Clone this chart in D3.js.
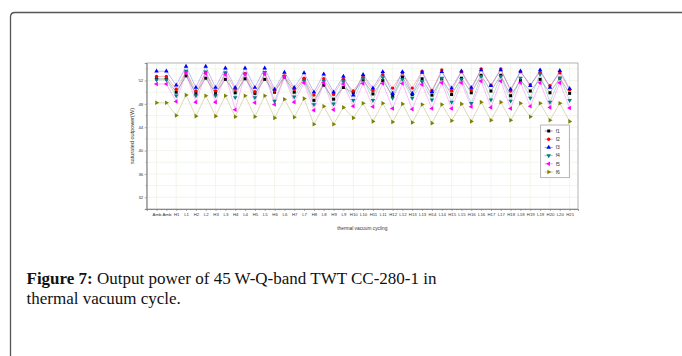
<!DOCTYPE html>
<html>
<head>
<meta charset="utf-8">
<script src="https://cdn.jsdelivr.net/npm/d3@7"></script>
<style>
  html, body { margin: 0; padding: 0; background: #fff; }
  svg { display: block; }
</style>
</head>
<body>
<div id="chart"></div>
<script>
// x categories: two ambient points, then alternating hot / cold plateaus
const categories = ["Amb", "Amb"];
for (let i = 1; i <= 20; i++) categories.push("H" + i, "L" + i);
categories.push("H21");

const seriesNames = ["f1", "f2", "f3", "f4", "f5", "f6"];

// saturated output power (W)
const f1 = [52.3, 52.3, 50.0, 52.8, 49.8, 52.4, 49.8, 52.2, 49.9, 52.3, 49.8, 52.2, 50.0, 52.6, 50.0, 52.2,
  48.6, 51.2, 48.8, 50.8, 49.9, 52.1, 49.7, 52.0, 49.4, 52.6, 49.6, 52.3, 49.5, 52.3, 49.6, 52.4,
  49.9, 52.9, 50.2, 52.9, 49.4, 52.0, 50.2, 52.2, 49.9, 52.4, 49.8];
const f2 = [52.7, 52.7, 50.5, 53.5, 50.2, 53.4, 50.2, 53.3, 50.5, 53.2, 50.1, 53.1, 50.2, 52.8, 50.5, 52.4,
  49.5, 52.3, 49.6, 52.2, 50.2, 52.6, 50.3, 53.0, 50.7, 53.3, 50.7, 53.6, 50.3, 53.8, 50.2, 53.5,
  50.4, 54.0, 51.2, 54.0, 50.2, 53.5, 51.3, 53.4, 51.1, 53.3, 50.4];
const f3 = [53.6, 53.6, 51.2, 54.4, 50.8, 54.4, 50.8, 54.1, 50.8, 54.1, 50.8, 54.1, 50.5, 53.4, 50.8, 53.3,
  50.0, 53.1, 50.0, 52.7, 49.5, 53.0, 50.7, 53.5, 49.8, 53.5, 49.8, 53.4, 50.1, 53.5, 50.7, 53.6,
  50.8, 53.8, 51.1, 53.8, 50.5, 53.6, 51.1, 53.8, 50.8, 53.7, 50.6];
const f4 = [52.1, 52.1, 49.4, 53.6, 49.4, 53.5, 49.4, 53.3, 49.1, 53.1, 49.1, 53.4, 48.5, 52.7, 49.2, 52.0,
  47.9, 51.9, 48.0, 51.8, 48.6, 52.4, 48.6, 52.5, 49.0, 52.2, 49.0, 51.8, 48.7, 52.4, 48.3, 52.2,
  48.1, 52.7, 48.7, 52.7, 48.5, 52.4, 49.0, 53.1, 48.3, 52.4, 48.6];
const f5 = [51.4, 51.4, 48.4, 53.3, 48.3, 53.2, 48.3, 53.0, 47.0, 53.1, 48.2, 53.2, 47.9, 52.6, 48.3, 51.6,
  46.9, 51.6, 47.0, 51.4, 47.6, 51.5, 47.5, 51.5, 47.2, 51.5, 47.1, 51.3, 47.2, 51.6, 47.2, 51.6,
  47.5, 51.9, 47.4, 51.9, 47.2, 51.6, 47.6, 51.6, 47.4, 51.6, 47.3];
const f6 = [48.2, 48.2, 46.0, 49.5, 45.9, 49.4, 45.9, 49.4, 45.8, 49.4, 45.8, 49.4, 45.6, 48.8, 45.7, 48.9,
  44.5, 47.6, 44.5, 47.4, 45.6, 48.1, 45.0, 48.1, 44.9, 48.0, 44.8, 47.9, 44.7, 47.9, 45.1, 48.0,
  45.0, 48.3, 45.2, 48.3, 45.2, 48.1, 45.8, 48.1, 45.2, 48.1, 45.0];

const yTicks = [32, 36, 40, 44, 48, 52];

const series = [
  { name: "f1", values: f1, color: "#000000", symbol: d3.symbolSquare, rot: 0 },
  { name: "f2", values: f2, color: "#ff0000", symbol: d3.symbolCircle, rot: 0 },
  { name: "f3", values: f3, color: "#0000ff", symbol: d3.symbolTriangle, rot: 0 },
  { name: "f4", values: f4, color: "#008080", symbol: d3.symbolTriangle, rot: 180 },
  { name: "f5", values: f5, color: "#ff00ff", symbol: d3.symbolTriangle, rot: -90 },
  { name: "f6", values: f6, color: "#808000", symbol: d3.symbolTriangle, rot: 90 },
];

const W = 682, H = 356;
const svg = d3.select("#chart").append("svg").attr("width", W).attr("height", H);

// figure frame (open to the right and bottom)
svg.append("path")
  .attr("d", "M10.5,356 L10.5,17 Q10.5,12.5 15,12.5 L682,12.5")
  .attr("fill", "none").attr("stroke", "#555").attr("stroke-width", 1.3);

const plot = { left: 146.7, right: 578, top: 63, bottom: 209 };

const x = d3.scaleLinear().domain([-1, 42.85]).range([plot.left, plot.right]);
const y = d3.scaleLinear().domain([30, 55]).range([plot.bottom, plot.top]);

const g = svg.append("g");

// faint grid
g.append("g").selectAll("line")
  .data(d3.range(0, categories.length, 2))
  .join("line")
  .attr("x1", (d) => x(d)).attr("x2", (d) => x(d))
  .attr("y1", plot.top).attr("y2", plot.bottom)
  .attr("stroke", "#eef4e8").attr("stroke-width", 0.8);
g.append("g").selectAll("line")
  .data(d3.range(32, 55, 2))
  .join("line")
  .attr("x1", plot.left).attr("x2", plot.right)
  .attr("y1", (d) => y(d)).attr("y2", (d) => y(d))
  .attr("stroke", "#eef4e8").attr("stroke-width", 0.8);

// plot box
g.append("rect")
  .attr("x", plot.left).attr("y", plot.top)
  .attr("width", plot.right - plot.left).attr("height", plot.bottom - plot.top)
  .attr("fill", "none").attr("stroke", "#a0a0a0").attr("stroke-width", 0.8);

// x axis
const xAxis = d3.axisBottom(x)
  .tickValues(d3.range(categories.length))
  .tickFormat((i) => categories[i])
  .tickSize(2).tickPadding(1.5);
const xa = g.append("g").attr("transform", `translate(0,${plot.bottom})`).call(xAxis);
xa.select(".domain").attr("stroke", "#777").attr("stroke-width", 0.8);
xa.selectAll(".tick line").attr("stroke", "#777").attr("stroke-width", 0.6);
xa.selectAll("text").attr("font-family", "Liberation Sans, Arial, sans-serif")
  .attr("font-size", 4.3).attr("fill", "#333");
// minor x ticks
g.append("g").selectAll("line")
  .data(d3.range(-0.5, categories.length, 1))
  .join("line")
  .attr("x1", (d) => x(d)).attr("x2", (d) => x(d))
  .attr("y1", plot.bottom).attr("y2", plot.bottom + 1.2)
  .attr("stroke", "#777").attr("stroke-width", 0.5);

// y axis
const yAxis = d3.axisLeft(y).tickValues(yTicks).tickSize(2).tickPadding(1.5);
const ya = g.append("g").attr("transform", `translate(${plot.left},0)`).call(yAxis);
ya.select(".domain").attr("stroke", "#777").attr("stroke-width", 0.8);
ya.selectAll(".tick line").attr("stroke", "#777").attr("stroke-width", 0.6);
ya.selectAll("text").attr("font-family", "Liberation Sans, Arial, sans-serif")
  .attr("font-size", 4.3).attr("fill", "#333");
g.append("g").selectAll("line")
  .data(d3.range(30, 55.1, 2).filter((v) => !yTicks.includes(v)))
  .join("line")
  .attr("x1", plot.left - 1.2).attr("x2", plot.left)
  .attr("y1", (d) => y(d)).attr("y2", (d) => y(d))
  .attr("stroke", "#777").attr("stroke-width", 0.5);

// axis titles
g.append("text")
  .attr("transform", `translate(134,${(plot.top + plot.bottom) / 2}) rotate(-90)`)
  .attr("text-anchor", "middle")
  .attr("font-family", "Liberation Sans, Arial, sans-serif").attr("font-size", 5.5).attr("fill", "#333")
  .text("saturated outpower(W)");
g.append("text")
  .attr("x", (plot.left + plot.right) / 2).attr("y", 229.5)
  .attr("text-anchor", "middle")
  .attr("font-family", "Liberation Sans, Arial, sans-serif").attr("font-size", 4.8).attr("fill", "#333")
  .text("thermal vacuum cycling");

// lines and markers
const line = d3.line().x((d, i) => x(i)).y((d) => y(d));
const symbolSize = 9;

series.forEach((s) => {
  const sg = g.append("g");
  sg.append("path")
    .datum(s.values)
    .attr("d", line)
    .attr("fill", "none")
    .attr("stroke", s.color)
    .attr("stroke-opacity", 0.35)
    .attr("stroke-width", 0.8);
  sg.selectAll("path.pt")
    .data(s.values)
    .join("path")
    .attr("class", "pt")
    .attr("d", d3.symbol(s.symbol, symbolSize))
    .attr("transform", (d, i) => `translate(${x(i)},${y(d)}) rotate(${s.rot})`)
    .attr("fill", s.color);
});

// legend
const lg = g.append("g").attr("transform", "translate(540.7,125)");
lg.append("rect").attr("width", 28.6).attr("height", 52.7)
  .attr("fill", "#fff").attr("stroke", "#999").attr("stroke-width", 0.7);
series.forEach((s, i) => {
  const ly = 6 + i * 8.2;
  lg.append("line").attr("x1", 4).attr("x2", 12).attr("y1", ly).attr("y2", ly)
    .attr("stroke", s.color).attr("stroke-opacity", 0.5).attr("stroke-width", 0.8);
  lg.append("path").attr("d", d3.symbol(s.symbol, symbolSize))
    .attr("transform", `translate(8,${ly}) rotate(${s.rot})`).attr("fill", s.color);
  lg.append("text").attr("x", 15).attr("y", ly + 1.8)
    .attr("font-family", "Liberation Sans, Arial, sans-serif").attr("font-size", 5).attr("fill", "#333")
    .text(s.name);
});

// caption
const cap = svg.append("text")
  .attr("font-family", "Liberation Serif, DejaVu Serif, serif")
  .attr("font-size", 17).attr("fill", "#111");
cap.append("tspan").attr("x", 26.5).attr("y", 283.5).attr("font-weight", "bold").text("Figure 7:");
cap.append("tspan").text(" Output power of 45 W-Q-band TWT CC-280-1 in");
svg.append("text")
  .attr("font-family", "Liberation Serif, DejaVu Serif, serif")
  .attr("font-size", 17).attr("fill", "#111")
  .attr("x", 26.5).attr("y", 303.5)
  .text("thermal vacuum cycle.");
</script>
</body>
</html>
